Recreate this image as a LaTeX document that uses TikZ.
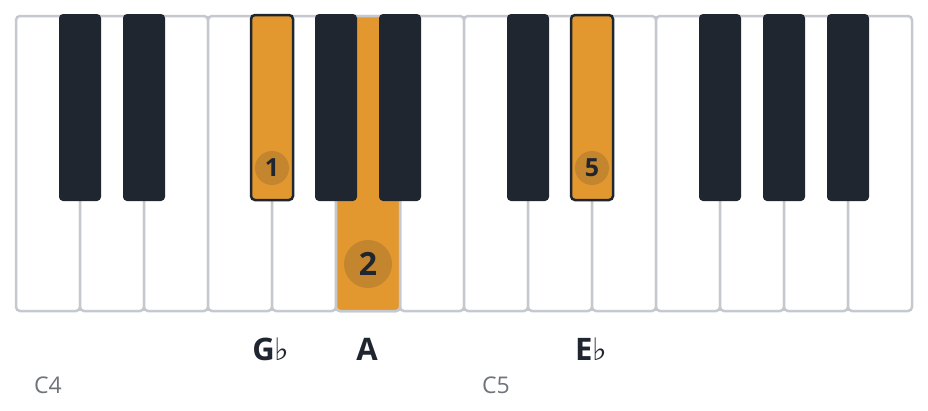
\documentclass[tikz,border=0pt]{standalone}
\usepackage{fontspec}
\setmainfont{Open Sans}
\newfontfamily\flatfont{DejaVu Sans}
\usepackage{tikz}

\definecolor{keygray}{HTML}{C5C8CF}
\definecolor{keydark}{HTML}{1F2630}
\definecolor{keyorange}{HTML}{E2982F}
\definecolor{dotorange}{HTML}{C4852F}
\definecolor{octgray}{HTML}{6E737C}

\newcommand{\flt}{{\flatfont\fontseries{m}\selectfont ♭}}

\tikzset{
    whitekey/.style={draw=keygray, line width=2.5pt, fill=white, rounded corners=4pt},
    blackkey/.style={fill=keydark, rounded corners=4pt},
    hotblack/.style={draw=keydark, line width=2.5pt, fill=keyorange, rounded corners=4pt},
    finger/.style={circle, fill=dotorange, text=keydark, inner sep=0pt, font=\bfseries\fontsize{25}{26}\selectfont},
    notelabel/.style={anchor=base, text=keydark, font=\bfseries\fontsize{31}{32}\selectfont},
    octlabel/.style={anchor=base, text=octgray, font=\fontsize{23}{24}\selectfont}
}

\begin{document}
\begin{tikzpicture}[x=1pt, y=-1pt]
            \useasboundingbox (0, 0) rectangle (928, 410);
            % white keys
            \foreach \i in {0,...,13}
                \draw[whitekey] (16+64*\i, 16) rectangle (80+64*\i, 311);
            \draw[whitekey, fill=keyorange] (336, 16) rectangle (400, 311);
            % black keys
            \foreach \c in {80, 144, 336, 400, 528, 720, 784, 848}
                \fill[blackkey] (\c-21, 14) rectangle (\c+21, 201);
            \draw[hotblack] (251, 15) rectangle (293, 200);
            \draw[hotblack] (571, 15) rectangle (613, 200);
            % fingers
            \node[finger, minimum size=34pt] (f1) at (272, 168) {1};
            \node[finger, minimum size=48pt, font=\bfseries\fontsize{32}{34}\selectfont] (f2) at (368, 264) {2};
            \node[finger, minimum size=34pt] (f5) at (592, 168) {5};
            % note names
            \node[notelabel] (lGb) at (271, 360) {G\flt};
            \node[notelabel] (lA) at (367, 360) {A};
            \node[notelabel] (lEb) at (591, 360) {E\flt};
            \node[octlabel] (lC4) at (48, 393) {C4};
            \node[octlabel] (lC5) at (496, 393) {C5};
        \end{tikzpicture}
\end{document}
